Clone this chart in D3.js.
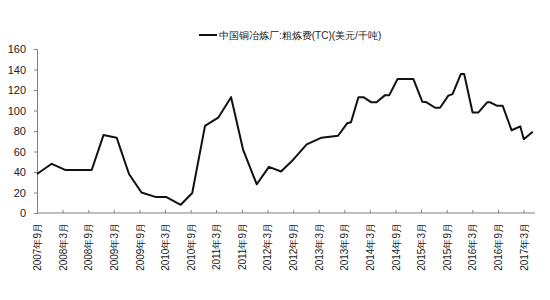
<!DOCTYPE html>
<html><head><meta charset="utf-8">
<script src="https://cdn.jsdelivr.net/npm/d3@7"></script>
<style>body{margin:0;background:#fff}svg{display:block}</style>
</head><body><svg id="c" width="550" height="300"></svg>
<script>
const seriesName = "中国铜冶炼厂:粗炼费(TC)(美元/千吨)";
const dates = ["2007-09-01","2007-12-15","2008-03-20","2008-09-25","2008-12-18","2009-03-22","2009-06-18","2009-09-15","2009-12-28","2010-03-12","2010-06-22","2010-09-12","2010-12-12","2011-03-16","2011-06-16","2011-09-10","2011-12-16","2012-03-12","2012-06-06","2012-09-01","2012-12-06","2013-03-22","2013-05-20","2013-07-18","2013-09-20","2013-10-18","2013-12-10","2014-01-15","2014-03-12","2014-04-18","2014-06-18","2014-07-18","2014-09-15","2015-01-06","2015-03-10","2015-04-10","2015-06-10","2015-07-15","2015-09-12","2015-10-12","2015-12-10","2016-01-03","2016-03-03","2016-04-12","2016-06-15","2016-07-06","2016-08-22","2016-10-03","2016-12-06","2017-02-06","2017-03-03","2017-05-06"];
const values = [38,48,42,42,76,73.5,38,20,15.5,15.5,8,19.5,85,93,113,61.5,28,45,40.5,52,67,73.5,74.5,75.4,87.5,88.5,113,113,108,108,115,115,130.7,130.7,108.6,108,102.7,102.7,114.5,116,135.6,135.6,98,98,108,108,104.7,104.7,80.7,84.6,72,79.3];
const xTicks = ["2007-09","2008-03","2008-09","2009-03","2009-09","2010-03","2010-09","2011-03","2011-09","2012-03","2012-09","2013-03","2013-09","2014-03","2014-09","2015-03","2015-09","2016-03","2016-09","2017-03"];
const yTicks = [0,20,40,60,80,100,120,140,160];

const svg = d3.select("#c");
const font = "Liberation Sans, Arial, sans-serif";
const x = d3.scaleTime().domain([new Date(2007,8,1), new Date(2017,4,22)]).range([37,535]);
const y = d3.scaleLinear().domain([0,160]).range([213,49]);

// y axis
const ya = svg.append("g").attr("transform","translate(37,0)")
  .call(d3.axisLeft(y).tickValues(yTicks).tickSize(3).tickPadding(8));
ya.select(".domain").attr("stroke","#808080");
ya.selectAll(".tick line").attr("stroke","#808080");
ya.selectAll("text").attr("font-family",font).attr("font-size",11).attr("fill","#222");

// x axis
const tickDates = xTicks.map(s=>{const [a,b]=s.split("-");return new Date(+a,+b-1,1);});
const xa = svg.append("g").attr("transform","translate(0,213)")
  .call(d3.axisBottom(x).tickValues(tickDates).tickSize(-3).tickPadding(0)
    .tickFormat(d=>d.getFullYear()+"年"+(d.getMonth()+1)+"月"));
xa.select(".domain").attr("stroke","#808080").attr("d","M37,0H535");
xa.selectAll(".tick line").attr("stroke","#808080");
xa.selectAll("text").attr("font-family",font).attr("font-size",10).attr("fill","#222")
  .attr("transform","rotate(-90)").attr("text-anchor","end").attr("dy","0.35em")
  .attr("x",-10).attr("y",0);

// line
const data = dates.map((d,i)=>({d:new Date(d), v:values[i]}));
svg.append("path").datum(data)
  .attr("fill","none").attr("stroke","#111").attr("stroke-width",2)
  .attr("stroke-linejoin","round")
  .attr("d", d3.line().x(p=>x(p.d)).y(p=>y(p.v)));

// legend
svg.append("line").attr("x1",199).attr("x2",217).attr("y1",35).attr("y2",35)
  .attr("stroke","#111").attr("stroke-width",2);
svg.append("text").attr("x",219).attr("y",35).attr("dy","0.35em")
  .attr("font-family",font).attr("font-size",10).attr("fill","#222").text(seriesName);
</script></body></html>
